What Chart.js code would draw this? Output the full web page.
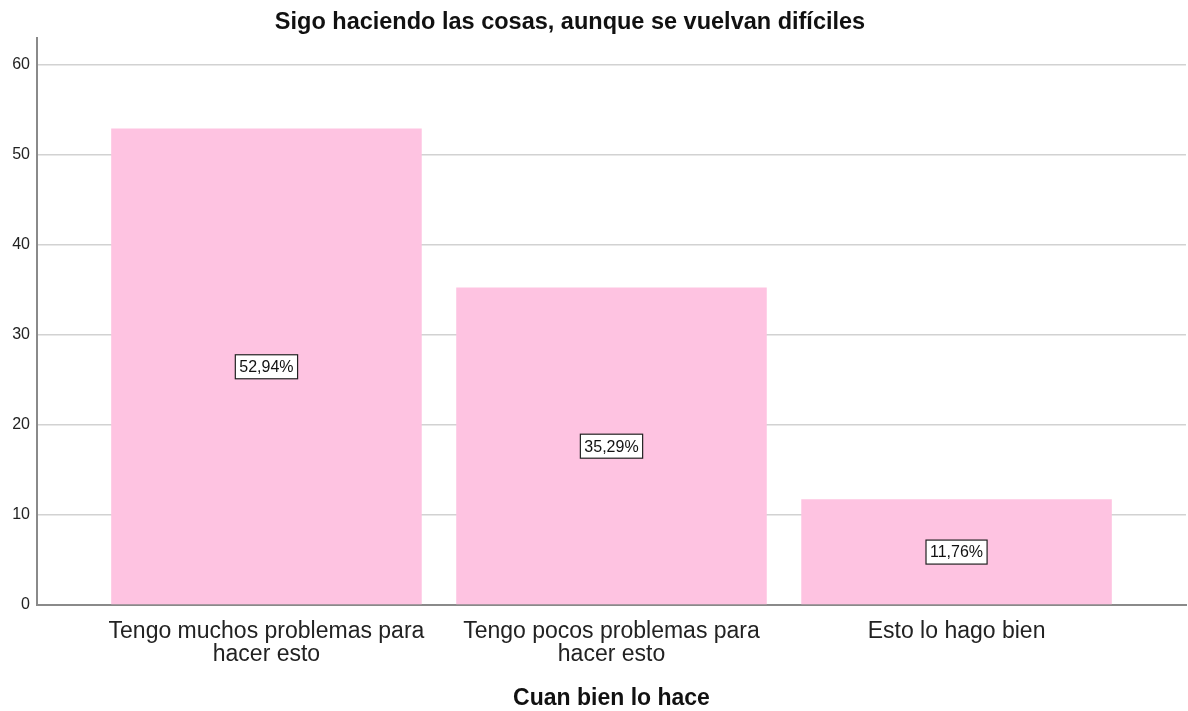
<!DOCTYPE html>
<html>
<head>
<meta charset="utf-8">
<script src="https://cdn.jsdelivr.net/npm/chart.js@4/dist/chart.umd.min.js"></script>
<style>
  body { margin: 0; background: #fff; }
  #wrap { width: 1188px; height: 711px; position: relative; }
</style>
</head>
<body>
<div id="wrap"><canvas id="chart"></canvas></div>
<script>
const chartTitle = "Sigo haciendo las cosas, aunque se vuelvan difíciles";
const axisTitle = "Cuan bien lo hace";
const categories = [
  ["Tengo muchos problemas para", "hacer esto"],
  ["Tengo pocos problemas para", "hacer esto"],
  ["Esto lo hago bien"],
];
const percents = [52.94, 35.29, 11.76];
const percentLabels = ["52,94%", "35,29%", "11,76%"];
const yTicks = [0, 10, 20, 30, 40, 50, 60];

// title drawn by hand so it can sit a bit left of center like the original
const titlePlugin = {
  id: "titleText",
  afterDraw(chart) {
    const ctx = chart.ctx;
    ctx.save();
    ctx.font = "bold 23.5px 'Liberation Sans', Arial, sans-serif";
    ctx.fillStyle = "#111";
    ctx.textAlign = "center";
    ctx.textBaseline = "middle";
    ctx.fillText(chartTitle, chart.width / 2 - 24, 23);
    ctx.restore();
  },
};

// boxed percentage in the middle of each bar
const boxLabels = {
  id: "boxLabels",
  afterDatasetsDraw(chart) {
    const ctx = chart.ctx;
    const meta = chart.getDatasetMeta(0);
    const yScale = chart.scales.y;
    ctx.save();
    ctx.font = "16px 'Liberation Sans', Arial, sans-serif";
    ctx.textAlign = "center";
    ctx.textBaseline = "middle";
    meta.data.forEach((bar, i) => {
      const y = yScale.getPixelForValue(percents[i] / 2);
      const w = ctx.measureText(percentLabels[i]).width + 8;
      const h = 24;
      ctx.fillStyle = "#fff";
      ctx.fillRect(bar.x - w / 2, y - h / 2, w, h);
      ctx.strokeStyle = "#222";
      ctx.lineWidth = 1.2;
      ctx.strokeRect(bar.x - w / 2, y - h / 2, w, h);
      ctx.fillStyle = "#111";
      ctx.fillText(percentLabels[i], bar.x, y + 1);
    });
    ctx.restore();
  },
};

new Chart(document.getElementById("chart"), {
  type: "bar",
  data: {
    datasets: [{
      data: percents.map((v, i) => ({ x: i, y: v })),
      backgroundColor: "#fec3e1",
      borderWidth: 0,
      categoryPercentage: 1,
      barPercentage: 0.9,
    }],
  },
  options: {
    responsive: true,
    maintainAspectRatio: false,
    animation: false,
    layout: { padding: { top: 38, right: 2, left: 0, bottom: 0 } },
    plugins: { legend: { display: false }, tooltip: { enabled: false } },
    scales: {
      x: {
        type: "linear",
        offset: false,
        min: -0.665,
        max: 2.665,
        afterBuildTicks: (scale) => {
          scale.ticks = categories.map((c, i) => ({ value: i }));
        },
        afterFit: (scale) => { scale.height = 106; },
        grid: { display: false, drawTicks: false, offset: false },
        border: { display: true, color: "#8a8a8a", width: 2 },
        ticks: {
          autoSkip: false,
          maxRotation: 0,
          padding: 15,
          color: "#222",
          font: { family: "'Liberation Sans', Arial, sans-serif", size: 23, lineHeight: 1 },
          callback: (v) => categories[v] || "",
        },
        title: {
          display: true,
          text: axisTitle,
          color: "#111",
          padding: { top: 0, bottom: 1 },
          font: { family: "'Liberation Sans', Arial, sans-serif", size: 23, weight: "bold", lineHeight: 1 },
        },
      },
      y: {
        min: 0,
        max: 63,
        afterBuildTicks: (scale) => {
          scale.ticks = yTicks.map((v) => ({ value: v }));
        },
        afterFit: (scale) => { scale.width = 37; },
        grid: { color: "#d2d2d2", lineWidth: 1.5, drawTicks: false },
        border: { display: true, color: "#8a8a8a", width: 2 },
        ticks: {
          padding: 7,
          color: "#222",
          font: { family: "'Liberation Sans', Arial, sans-serif", size: 16 },
        },
      },
    },
  },
  plugins: [titlePlugin, boxLabels],
});
</script>
</body>
</html>
